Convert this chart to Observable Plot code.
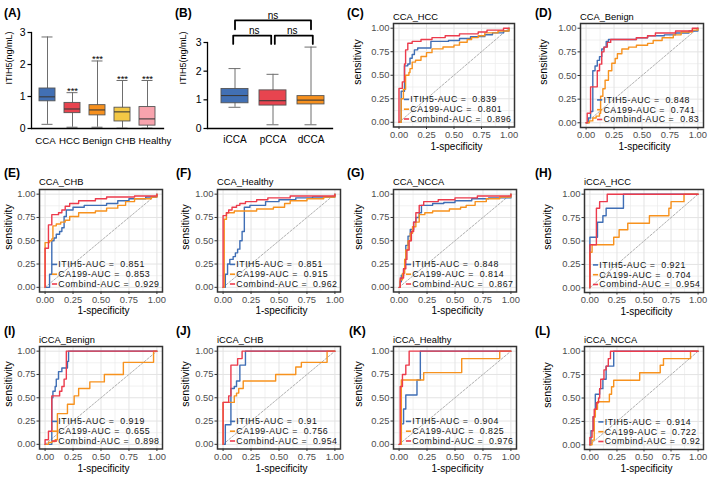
<!DOCTYPE html>
<html><head><meta charset="utf-8">
<script src="https://cdn.jsdelivr.net/npm/d3@7"></script>
<script src="https://cdn.jsdelivr.net/npm/@observablehq/plot@0.6"></script>
<style>
body{margin:0;background:#fff;}
#fig{position:relative;width:709px;height:477px;overflow:hidden;background:#fff;}
#fig g[aria-label="roc-legend"] text, #fig g[fill="#111"] text{letter-spacing:0.5px;}
</style></head><body><div id="fig"></div>
<script>
// ---------------- DATA ----------------
// Panel A box summaries (ng/mL)
const groupsA = ["CCA","HCC","Benign","CHB","Healthy"];
const lowA  = [0.13,0.04,0.04,0.01,0.01];
const q1A   = [0.85,0.48,0.41,0.22,0.09];
const medA  = [0.99,0.61,0.58,0.52,0.30];
const q3A   = [1.25,0.80,0.73,0.65,0.67];
const highA = [2.86,1.12,2.11,1.50,1.50];
const starsA = ["","***","***","***","***"];
const colorsA = ["#4270b4","#e8444f","#f6901e","#f3c845","#f8a3ad"];
// Panel B
const groupsB = ["iCCA","pCCA","dCCA"];
const lowB  = [0.74,0.13,0.13];
const q1B   = [0.88,0.80,0.84];
const medB  = [1.15,0.97,0.99];
const q3B   = [1.38,1.33,1.13];
const highB = [2.09,1.89,2.84];
const colorsB = ["#4270b4","#e8444f","#f6901e"];
const compB = [["iCCA","pCCA"],["pCCA","dCCA"],["iCCA","dCCA"]];
const sigB = ["ns","ns","ns"];
const yTicksBox = [0,1,2,3];

// ROC panels
const panelIds = ["C","D","E","F","G","H","I","J","K","L"];
const comparisons = ["CCA_HCC","CCA_Benign","CCA_CHB","CCA_Healthy","CCA_NCCA","iCCA_HCC","iCCA_Benign","iCCA_CHB","iCCA_Healthy","iCCA_NCCA"];
const aucITIH5   = ["0.839","0.848","0.851","0.851","0.848","0.921","0.919","0.91","0.904","0.914"];
const aucCA199   = ["0.801","0.741","0.853","0.915","0.814","0.704","0.655","0.756","0.825","0.722"];
const aucCombind = ["0.896","0.83","0.929","0.962","0.867","0.954","0.898","0.954","0.976","0.92"];
const rocTicks = [0,0.25,0.5,0.75,1];
const rocMinor = [0.125,0.375,0.625,0.875];
const chance = [[0,0],[1,1]];

// ROC points [1-specificity, sensitivity] (step after)
const itih5C = [[0,0],[0.02,0.33],[0.05,0.6],[0.08,0.62],[0.1,0.68],[0.12,0.72],[0.14,0.77],[0.17,0.79],[0.29,0.86],[0.45,0.87],[0.55,0.89],[0.65,0.91],[0.78,0.93],[0.85,0.95],[0.95,0.97],[1,1]];
const ca199C = [[0,0],[0.02,0.25],[0.04,0.35],[0.06,0.5],[0.09,0.53],[0.1,0.57],[0.12,0.64],[0.15,0.66],[0.2,0.7],[0.25,0.74],[0.3,0.78],[0.4,0.8],[0.5,0.82],[0.55,0.85],[0.62,0.88],[0.66,0.9],[0.72,0.92],[0.78,0.95],[0.9,0.97],[1,1]];
const combC  = [[0,0],[0,0.36],[0.03,0.43],[0.05,0.62],[0.06,0.77],[0.08,0.84],[0.12,0.86],[0.2,0.88],[0.3,0.9],[0.42,0.92],[0.55,0.94],[0.72,0.96],[0.8,0.98],[0.95,1],[1,1]];

const itih5D = [[0,0],[0.02,0.05],[0.04,0.12],[0.06,0.55],[0.08,0.6],[0.1,0.66],[0.12,0.7],[0.14,0.78],[0.16,0.8],[0.18,0.86],[0.2,0.88],[0.45,0.9],[0.55,0.92],[0.7,0.93],[0.8,0.95],[0.92,0.97],[1,1]];
const ca199D = [[0,0],[0.03,0.02],[0.06,0.05],[0.09,0.07],[0.12,0.1],[0.13,0.28],[0.15,0.36],[0.17,0.45],[0.2,0.55],[0.23,0.63],[0.26,0.68],[0.28,0.73],[0.32,0.78],[0.38,0.8],[0.45,0.82],[0.55,0.84],[0.6,0.87],[0.68,0.9],[0.78,0.93],[0.85,0.96],[0.95,0.98],[1,1]];
const combD  = [[0,0],[0.01,0.1],[0.04,0.38],[0.1,0.55],[0.12,0.62],[0.14,0.75],[0.16,0.8],[0.19,0.85],[0.22,0.88],[0.45,0.9],[0.55,0.92],[0.62,0.95],[0.8,0.97],[0.95,1],[1,1]];

const itih5E = [[0,0],[0.04,0.14],[0.06,0.5],[0.08,0.53],[0.1,0.57],[0.13,0.6],[0.15,0.64],[0.17,0.76],[0.19,0.83],[0.25,0.86],[0.35,0.88],[0.55,0.9],[0.65,0.93],[0.75,0.95],[0.9,0.97],[1,1]];
const ca199E = [[0,0],[0,0.48],[0.04,0.5],[0.06,0.52],[0.07,0.66],[0.1,0.68],[0.14,0.7],[0.18,0.72],[0.22,0.76],[0.3,0.8],[0.45,0.82],[0.55,0.85],[0.65,0.88],[0.72,0.92],[0.8,0.95],[0.95,0.97],[1,1]];
const combE  = [[0,0],[0,0.42],[0.03,0.67],[0.06,0.78],[0.12,0.8],[0.15,0.83],[0.18,0.87],[0.22,0.9],[0.3,0.93],[0.45,0.95],[0.55,0.97],[0.8,0.98],[1,1]];

const itih5F = [[0,0],[0.02,0.14],[0.04,0.25],[0.06,0.3],[0.09,0.33],[0.11,0.37],[0.13,0.41],[0.15,0.5],[0.17,0.6],[0.19,0.86],[0.24,0.88],[0.38,0.92],[0.5,0.94],[0.65,0.96],[0.8,0.97],[1,1]];
const ca199F = [[0,0],[0.01,0.73],[0.03,0.8],[0.1,0.82],[0.3,0.84],[0.45,0.86],[0.55,0.9],[0.6,0.93],[0.75,0.95],[0.9,0.97],[1,1]];
const combF  = [[0,0],[0,0.77],[0.03,0.8],[0.05,0.83],[0.08,0.86],[0.12,0.88],[0.15,0.9],[0.2,0.92],[0.3,0.94],[0.4,0.96],[0.6,0.98],[1,1]];

const itih5G = [[0,0],[0.01,0.06],[0.02,0.13],[0.04,0.2],[0.05,0.3],[0.06,0.45],[0.08,0.55],[0.1,0.62],[0.13,0.7],[0.15,0.75],[0.18,0.8],[0.2,0.88],[0.3,0.9],[0.4,0.91],[0.5,0.93],[0.65,0.95],[0.8,0.96],[1,1]];
const ca199G = [[0,0],[0.01,0.08],[0.03,0.15],[0.05,0.3],[0.06,0.4],[0.08,0.5],[0.1,0.58],[0.12,0.65],[0.15,0.7],[0.18,0.78],[0.23,0.8],[0.3,0.82],[0.45,0.84],[0.55,0.86],[0.6,0.88],[0.68,0.92],[0.78,0.95],[0.9,0.97],[1,1]];
const combG  = [[0,0],[0.01,0.1],[0.04,0.2],[0.06,0.3],[0.07,0.4],[0.09,0.5],[0.11,0.6],[0.13,0.7],[0.15,0.8],[0.18,0.88],[0.22,0.92],[0.35,0.94],[0.5,0.96],[0.7,0.98],[1,1]];

const itih5H = [[0,0],[0,0.54],[0.07,0.7],[0.12,0.77],[0.15,0.85],[0.31,1],[1,1]];
const ca199H = [[0,0],[0,0.38],[0.02,0.46],[0.22,0.54],[0.27,0.62],[0.35,0.69],[0.55,0.77],[0.73,0.85],[0.75,0.92],[0.87,1],[1,1]];
const combH  = [[0,0],[0,0.46],[0.06,0.85],[0.09,0.92],[0.16,1],[1,1]];

const itih5I = [[0,0],[0.06,0.5],[0.07,0.57],[0.09,0.62],[0.1,0.7],[0.12,0.78],[0.15,0.82],[0.2,0.89],[0.21,1],[1,1]];
const ca199I = [[0,0],[0.03,0.02],[0.06,0.03],[0.09,0.05],[0.11,0.33],[0.2,0.43],[0.26,0.52],[0.3,0.6],[0.4,0.67],[0.53,0.75],[0.7,0.88],[0.97,1],[1,1]];
const combI  = [[0,0],[0,0.05],[0.03,0.14],[0.06,0.52],[0.13,0.57],[0.15,0.62],[0.17,0.7],[0.19,1],[1,1]];

const itih5J = [[0,0],[0.02,0.21],[0.07,0.6],[0.1,0.62],[0.12,0.68],[0.15,0.85],[0.2,1],[1,1]];
const ca199J = [[0,0],[0,0.45],[0.1,0.52],[0.12,0.55],[0.14,0.6],[0.18,0.68],[0.47,0.75],[0.65,0.83],[0.7,0.88],[0.93,1],[1,1]];
const combJ  = [[0,0],[0,0.45],[0.05,0.52],[0.07,0.85],[0.13,0.92],[0.17,1],[1,1]];

const itih5K = [[0,0],[0.02,0.22],[0.04,0.38],[0.06,0.53],[0.16,0.69],[0.19,1],[1,1]];
const ca199K = [[0,0],[0.02,0.69],[0.22,0.77],[0.56,0.92],[0.9,1],[1,1]];
const combK  = [[0,0],[0.01,0.62],[0.03,0.75],[0.06,0.85],[0.09,1],[1,1]];

const itih5L = [[0,0],[0.01,0.15],[0.03,0.3],[0.05,0.54],[0.09,0.6],[0.12,0.7],[0.15,0.84],[0.22,1],[1,1]];
const ca199L = [[0,0],[0.02,0.05],[0.04,0.3],[0.05,0.38],[0.07,0.46],[0.18,0.54],[0.2,0.62],[0.22,0.69],[0.46,0.77],[0.65,0.85],[0.68,0.92],[0.93,1],[1,1]];
const combL  = [[0,0],[0,0.08],[0.02,0.15],[0.03,0.3],[0.04,0.38],[0.06,0.45],[0.08,0.5],[0.09,0.6],[0.1,0.7],[0.13,0.8],[0.15,0.84],[0.17,0.92],[0.19,1],[1,1]];

const rocITIH5 = [itih5C,itih5D,itih5E,itih5F,itih5G,itih5H,itih5I,itih5J,itih5K,itih5L];
const rocCA199 = [ca199C,ca199D,ca199E,ca199F,ca199G,ca199H,ca199I,ca199J,ca199K,ca199L];
const rocCombind = [combC,combD,combE,combF,combG,combH,combI,combJ,combK,combL];

// ---------------- LAYOUT ----------------
const FONT = '"Liberation Sans", Arial, Helvetica, sans-serif';
const BLUE = "#3f6eb5", ORANGE = "#f7921e", RED = "#ec3b4c";
const fig = document.getElementById("fig");
const intFmt = d => String(d);

function put(text, x, y, {size=10, weight="normal", color="#000", center=false, rotate=false} = {}) {
  const d = document.createElement("div");
  d.textContent = text;
  Object.assign(d.style, {position:"absolute", left:x+"px", top:y+"px", fontSize:size+"px",
    fontWeight:weight, color, whiteSpace:"pre", lineHeight:"1", fontFamily:FONT});
  d.style.transform = rotate ? "translate(-50%,-50%) rotate(-90deg)" : (center ? "translate(-50%,-50%)" : "translate(0,-50%)");
  fig.appendChild(d);
}
function mount(svg, left, top) {
  const w = document.createElement("div");
  Object.assign(w.style, {position:"absolute", left:left+"px", top:top+"px"});
  w.appendChild(svg);
  fig.appendChild(w);
}

// ---------- Panel A ----------
const idxA = d3.range(groupsA.length);
const nudgeA = [-2,-3,0,3,7.5];
const plotA = Plot.plot({
  width:170, height:150, marginLeft:31, marginRight:7, marginTop:32, marginBottom:22,
  style:{fontFamily:FONT, fontSize:"10px", color:"#000", background:"none", overflow:"visible"},
  x:{type:"band", domain:groupsA, paddingInner:0.35, paddingOuter:0.175, insetLeft:4, insetRight:3, axis:null},
  y:{domain:[0,3]},
  marks:[
    Plot.ruleX(idxA, {x:i=>groupsA[i], y1:i=>lowA[i], y2:i=>highA[i], stroke:"#6e6e6e", strokeWidth:1}),
    Plot.tickY(idxA, {x:i=>groupsA[i], y:i=>lowA[i], stroke:"#6e6e6e", insetLeft:2.5, insetRight:2.5}),
    Plot.tickY(idxA, {x:i=>groupsA[i], y:i=>highA[i], stroke:"#6e6e6e", insetLeft:2.5, insetRight:2.5}),
    Plot.barY(idxA, {x:i=>groupsA[i], y1:i=>q1A[i], y2:i=>q3A[i], fill:i=>colorsA[i], stroke:"#555", strokeWidth:0.9}),
    Plot.tickY(idxA, {x:i=>groupsA[i], y:i=>medA[i], stroke:"#3a3a3a", strokeWidth:1.1}),
    Plot.text(idxA, {x:i=>groupsA[i], y:i=>highA[i], text:i=>starsA[i], dy:-2, lineAnchor:"middle", fontSize:9.5}),
    Plot.axisY({ticks:yTicksBox, tickFormat:intFmt, tickSize:3.5, tickPadding:2.5, label:null, fontSize:10.5, strokeWidth:1.2}),
    Plot.frame({anchor:"left", stroke:"#000", strokeWidth:1.3}),
    Plot.frame({anchor:"bottom", stroke:"#000", strokeWidth:1.3}),
    ...groupsA.map((g,i)=>Plot.text([g], {x:d=>d, frameAnchor:"bottom", dy:12.5, dx:nudgeA[i], lineAnchor:"middle", fontSize:9.7}))
  ]
});
mount(plotA, 0, 0);

// ---------- Panel B ----------
const idxB = d3.range(groupsB.length);
const stepB = (160-32-3-7.5-2)/3;
const bracketLevels = [3.24, 3.24, 3.77];
const bracketLegs = [2.95, 2.95, 3.46];
const bracketDx = [-1.8, 1.8, 0];
const brackets = compB.map(([a,b],i)=>Plot.line(
  [[a,bracketLegs[i]],[a,bracketLevels[i]],[b,bracketLevels[i]],[b,bracketLegs[i]]],
  {x:d=>d[0], y:d=>d[1], stroke:"#000", strokeWidth:1.8, dx:bracketDx[i]}));
const nsMarks = compB.map(([a,b],i)=>{
  const ia = groupsB.indexOf(a), ib = groupsB.indexOf(b);
  const mid = (ia+ib)/2, base = Math.floor(mid);
  return Plot.text([sigB[i]], {x:()=>groupsB[base], y:()=>bracketLevels[i], text:d=>d, dx:(mid-base)*stepB, dy:-5, lineAnchor:"middle", fontSize:10});
});
const plotB = Plot.plot({
  width:160, height:150, marginLeft:32, marginRight:3, marginTop:42, marginBottom:22,
  style:{fontFamily:FONT, fontSize:"10px", color:"#000", background:"none", overflow:"visible"},
  x:{type:"band", domain:groupsB, paddingInner:0.3, paddingOuter:0.15, insetLeft:7.5, insetRight:2, axis:null},
  y:{domain:[0,3]},
  marks:[
    Plot.ruleX(idxB, {x:i=>groupsB[i], y1:i=>lowB[i], y2:i=>highB[i], stroke:"#6e6e6e", strokeWidth:1}),
    Plot.tickY(idxB, {x:i=>groupsB[i], y:i=>lowB[i], stroke:"#6e6e6e", insetLeft:7.5, insetRight:7.5}),
    Plot.tickY(idxB, {x:i=>groupsB[i], y:i=>highB[i], stroke:"#6e6e6e", insetLeft:7.5, insetRight:7.5}),
    Plot.barY(idxB, {x:i=>groupsB[i], y1:i=>q1B[i], y2:i=>q3B[i], fill:i=>colorsB[i], stroke:"#555", strokeWidth:0.9}),
    Plot.tickY(idxB, {x:i=>groupsB[i], y:i=>medB[i], stroke:"#3a3a3a", strokeWidth:1.1}),
    ...brackets,
    ...nsMarks,
    Plot.axisY({ticks:yTicksBox, tickFormat:intFmt, tickSize:3.5, tickPadding:2.5, label:null, fontSize:10.5, strokeWidth:1.2}),
    Plot.frame({anchor:"left", stroke:"#000", strokeWidth:1.3}),
    Plot.frame({anchor:"bottom", stroke:"#000", strokeWidth:1.3}),
    ...groupsB.map(g=>Plot.text([g], {x:d=>d, frameAnchor:"bottom", dy:11, lineAnchor:"middle", fontSize:10}))
  ]
});
mount(plotB, 175, 0);

put("ITIH5(ng/mL)", 9, 58, {size:9, rotate:true});
put("ITIH5(ng/mL)", 183, 58, {size:9, rotate:true});

// ---------- ROC panels ----------
const rocFrames = [[393,23,514,126.5],[580,23,703,127],[39,188.5,162,291],[217,188.5,340,291],[393,188.5,516,291],
                   [584,188.5,703,291.5],[39,346,162,448.5],[217,346,340,448.5],[393,346,516,448.5],[584,346,703,449]];
const sensX = [357,543,8,185,358,547,8,185,358,547];
const canvas = document.createElement("canvas").getContext("2d");
const dashSymbol = {draw(ctx){ ctx.moveTo(-2.6,0); ctx.lineTo(2.6,0); }};
const LEG_FS = 8.8, LEG_LS = 0.5;

panelIds.forEach((pid, i) => {
  const [fl, ft, fr, fb] = rocFrames[i];
  const mL=36, mR=4, mT=4, mB=24;
  const fw = fr-fl, fh = fb-ft;
  const series = [[rocITIH5[i], BLUE, `ITIH5-AUC = \u00a0${aucITIH5[i]}`],
                  [rocCA199[i], ORANGE, `CA199-AUC = \u00a0${aucCA199[i]}`],
                  [rocCombind[i], RED, `Combind-AUC = \u00a0${aucCombind[i]}`]];
  canvas.font = `${LEG_FS}px ${FONT}`;
  const tw = d3.max(series, s => canvas.measureText(s[2]).width + LEG_LS*s[2].length);
  const keyW = 5.2, gap = 1.2;
  const legLeft = Math.min(0.55*fw - (keyW+gap+tw)/2, fw - 3 - (keyW+gap+tw));
  const rowDy = [-27.6,-17.8,-8.0];
  const plot = Plot.plot({
    width: fw+mL+mR, height: fh+mT+mB, marginLeft:mL, marginRight:mR, marginTop:mT, marginBottom:mB,
    style:{fontFamily:FONT, fontSize:"9.4px", color:"#4d4d4d", background:"none", overflow:"visible"},
    x:{domain:[-0.05,1.05]}, y:{domain:[-0.05,1.05]},
    marks:[
      Plot.gridX({ticks:rocMinor, stroke:"#ebebeb", strokeOpacity:1, strokeWidth:0.7}),
      Plot.gridY({ticks:rocMinor, stroke:"#ebebeb", strokeOpacity:1, strokeWidth:0.7}),
      Plot.gridX({ticks:rocTicks, stroke:"#e3e3e3", strokeOpacity:1, strokeWidth:1}),
      Plot.gridY({ticks:rocTicks, stroke:"#e3e3e3", strokeOpacity:1, strokeWidth:1}),
      Plot.line(chance, {x:d=>d[0], y:d=>d[1], stroke:"#9a9a9a", strokeWidth:0.8, strokeDasharray:"2.2,1.6"}),
      ...series.map(([pts,col]) => Plot.line(pts, {x:d=>d[0], y:d=>d[1], stroke:col, strokeWidth:1.4, curve:"step-after"})),
      ...series.map(([,col],j) => Plot.dot([0], {frameAnchor:"bottom-left", dx:legLeft+keyW/2, dy:rowDy[j], symbol:dashSymbol, stroke:col, fill:"none", strokeWidth:1.6})),
      ...series.map(([,,lab],j) => Plot.text([lab], {text:d=>d, frameAnchor:"bottom-left", dx:legLeft+keyW+gap, dy:rowDy[j], textAnchor:"start", lineAnchor:"middle", fontSize:LEG_FS, fill:"#111", ariaLabel:"roc-legend"})),
      Plot.axisX({ticks:rocTicks, tickFormat:d3.format(".2f"), tickSize:2.5, tickPadding:1.5, label:null, stroke:"#333"}),
      Plot.axisY({ticks:rocTicks, tickFormat:d3.format(".2f"), tickSize:2.5, tickPadding:1.5, label:null, stroke:"#333"}),
      Plot.frame({stroke:"#333", strokeWidth:1.5})
    ]
  });
  mount(plot, fl-mL, ft-mT);
  put(comparisons[i], fl, ft-5.5, {size:9.3});
  put("sensitivity", sensX[i], (ft+fb)/2-13, {size:10.5, rotate:true});
  put("1-specificity", (fl+fr)/2+3, fb+20, {size:10, center:true});
});

// Panel letters
const letterPos = {A:[4,13],B:[175,13],C:[347,13],D:[535,13],E:[4,173],F:[176,173],G:[347,173],H:[535,173],I:[4,331],J:[176,331],K:[349,331],L:[535,331]};
Object.entries(letterPos).forEach(([k,[x,y]]) => put(`(${k})`, x, y, {size:12, weight:"bold"}));
</script></body></html>
